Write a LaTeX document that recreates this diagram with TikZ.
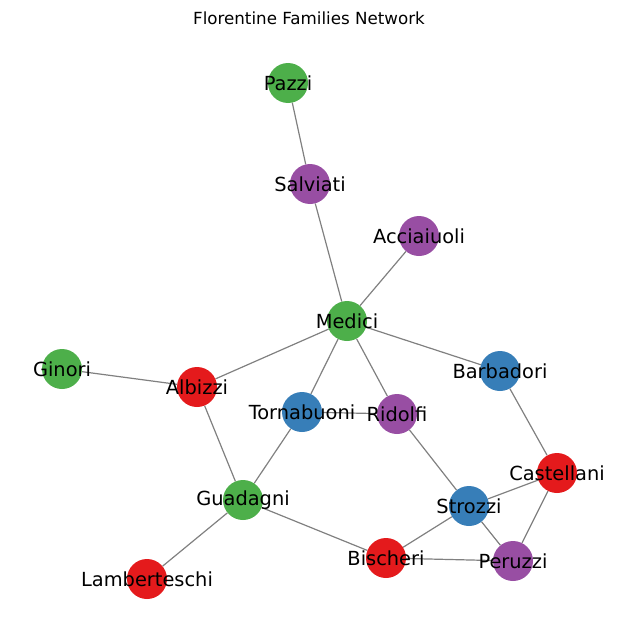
\documentclass[tikz,border=0pt]{standalone}
\usepackage{fontspec}
\setmainfont{DejaVu Sans}
\usepackage{tikz}
\usetikzlibrary{backgrounds}
\definecolor{famred}{HTML}{E41A1C}
\definecolor{famblue}{HTML}{377EB8}
\definecolor{famgreen}{HTML}{4DAF4A}
\definecolor{fampurple}{HTML}{984EA3}
\tikzstyle{family} = [circle, minimum size=40pt, inner sep=0pt, draw=none]
\tikzstyle{red} = [family, fill=famred]
\tikzstyle{blue} = [family, fill=famblue]
\tikzstyle{green} = [family, fill=famgreen]
\tikzstyle{purple} = [family, fill=fampurple]
\tikzstyle{tie} = [draw=gray, line width=1.2pt]

\begin{document}
\begin{tikzpicture}[x=1pt, y=-1pt, every label/.style={font=\fontsize{19.4}{23}\selectfont}]
        \useasboundingbox (0,0) rectangle (619,642);
        \node (title) at (309,18) {\fontsize{16.7}{20}\selectfont Florentine Families Network};

        \node (pazzi) [green, label={center:Pazzi}] at (288,83) {};
        \node (salviati) [purple, label={center:Salviati}] at (310,184) {};
        \node (acciaiuoli) [purple, label={center:Acciaiuoli}] at (419,236) {};
        \node (medici) [green, label={center:Medici}] at (347,321) {};
        \node (ginori) [green, label={center:Ginori}] at (62,369) {};
        \node (albizzi) [red, label={center:Albizzi}] at (197,387) {};
        \node (barbadori) [blue, label={center:Barbadori}] at (500,371) {};
        \node (tornabuoni) [blue, label={center:Tornabuoni}] at (302,412) {};
        \node (ridolfi) [purple, label={center:Ridolfi}] at (397,414) {};
        \node (castellani) [red, label={center:Castellani}] at (557,473) {};
        \node (guadagni) [green, label={center:Guadagni}] at (243,500) {};
        \node (strozzi) [blue, label={center:Strozzi}] at (469,506) {};
        \node (bischeri) [red, label={center:Bischeri}] at (386,558) {};
        \node (peruzzi) [purple, label={center:Peruzzi}] at (513,561) {};
        \node (lamberteschi) [red, label={center:Lamberteschi}] at (147,579) {};

        \begin{scope}[on background layer]
        \draw [tie] (pazzi) -- (salviati);
        \draw [tie] (salviati) -- (medici);
        \draw [tie] (acciaiuoli) -- (medici);
        \draw [tie] (medici) -- (albizzi);
        \draw [tie] (medici) -- (barbadori);
        \draw [tie] (medici) -- (tornabuoni);
        \draw [tie] (medici) -- (ridolfi);
        \draw [tie] (ginori) -- (albizzi);
        \draw [tie] (albizzi) -- (guadagni);
        \draw [tie] (tornabuoni) -- (ridolfi);
        \draw [tie] (tornabuoni) -- (guadagni);
        \draw [tie] (ridolfi) -- (strozzi);
        \draw [tie] (barbadori) -- (castellani);
        \draw [tie] (castellani) -- (strozzi);
        \draw [tie] (castellani) -- (peruzzi);
        \draw [tie] (guadagni) -- (bischeri);
        \draw [tie] (guadagni) -- (lamberteschi);
        \draw [tie] (strozzi) -- (bischeri);
        \draw [tie] (strozzi) -- (peruzzi);
        \draw [tie] (bischeri) -- (peruzzi);
        \end{scope}
    \end{tikzpicture}
\end{document}
